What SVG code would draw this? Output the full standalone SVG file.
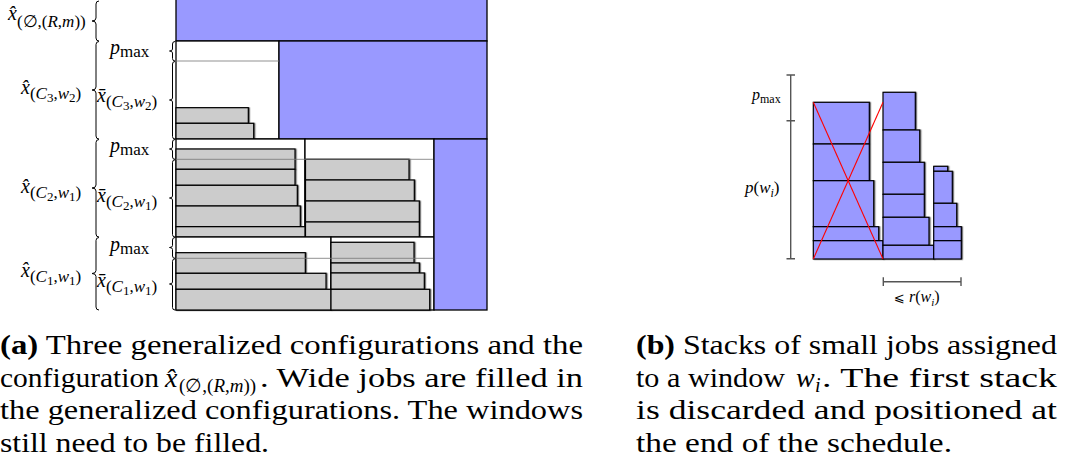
<svg xmlns="http://www.w3.org/2000/svg" width="1069" height="472" viewBox="0 0 1069 472">
<style>
.bg{fill:#fff}
.blue{fill:#9999ff;stroke:#000;stroke-width:1.3}
.box{fill:#fff;stroke:#000;stroke-width:1.3}
.job{fill:#cccccc;stroke:#000;stroke-width:1.2}
.sjob{fill:#9999ff;stroke:#000;stroke-width:1.2}
.pl{stroke:#777;stroke-width:1;opacity:0.8}
.br{fill:none;stroke:#000;stroke-width:1}
.m{font-family:'Liberation Serif','Times New Roman',Times,serif;font-size:20px;fill:#000}
.i{font-style:italic}
.s{font-size:17px}
.ss{font-size:13px}
.bar{stroke:#555;stroke-width:1.4;fill:none}
.red{stroke:#ff0000;stroke-width:1.1}
.cap{font-family:'Liberation Serif','Times New Roman',Times,serif;font-size:28px;fill:#000}
</style>
<defs>
<filter id="sh" x="-10%" y="-10%" width="120%" height="130%">
<feDropShadow dx="1.2" dy="0.3" stdDeviation="0.6" flood-color="#000" flood-opacity="0.55"/>
</filter>
</defs>
<rect class="bg" x="0" y="0" width="1069" height="472"/>

<g id="schedule-a">
<rect class="blue" x="176" y="-2" width="311" height="43"/>
<g id="config-c3-w2">
<rect class="box" x="176" y="41" width="103" height="98"/>
<rect class="blue" x="279" y="41" width="208" height="98"/>
<g filter="url(#sh)">
<rect class="job" x="176" y="107.7" width="72.3" height="15.6"/>
<rect class="job" x="176" y="123.3" width="77.7" height="15.7"/>
</g>
<line class="pl" x1="176" y1="61" x2="279" y2="61"/>
</g>
<g id="config-c2-w1">
<rect class="box" x="176" y="139" width="129" height="98"/>
<rect class="box" x="305" y="139" width="129" height="98"/>
<g filter="url(#sh)">
<rect class="job" x="176" y="149" width="119" height="20.3"/>
<rect class="job" x="176" y="169.3" width="119" height="16"/>
<rect class="job" x="176" y="185.3" width="121.3" height="20.7"/>
<rect class="job" x="176" y="206" width="124.3" height="20.7"/>
<rect class="job" x="176" y="226.7" width="129" height="10.3"/>
<rect class="job" x="305.5" y="159.3" width="103.5" height="20.7"/>
<rect class="job" x="305.5" y="180" width="108.8" height="21"/>
<rect class="job" x="305.5" y="201" width="113.8" height="21"/>
<rect class="job" x="305.5" y="222" width="113.8" height="15"/>
</g>
<line class="pl" x1="176" y1="159.3" x2="434" y2="159.3"/>
</g>
<g id="config-c1-w1">
<rect class="box" x="176" y="237" width="155" height="73"/>
<rect class="box" x="331" y="237" width="103" height="73"/>
<g filter="url(#sh)">
<rect class="job" x="176" y="252.7" width="129.3" height="20.6"/>
<rect class="job" x="176" y="273.3" width="150" height="16"/>
<rect class="job" x="176" y="289.3" width="155" height="20.7"/>
<rect class="job" x="331" y="242.3" width="83" height="20.7"/>
<rect class="job" x="331" y="263" width="88.3" height="10"/>
<rect class="job" x="331" y="273" width="93.3" height="16.3"/>
<rect class="job" x="331" y="289.3" width="98.7" height="20.7"/>
</g>
<line class="pl" x1="176" y1="258.3" x2="434" y2="258.3"/>
</g>
<g id="window-w1">
<rect class="blue" x="434" y="139" width="53" height="171"/>
</g>
</g>

<g id="braces">
<path class="br" d="M99,1 Q96,1 96,4 L96,18 Q96,21 92,21 Q96,21 96,24 L96,38 Q96,41 99,41"/>
<path class="br" d="M99,41.5 Q96,41.5 96,44.5 L96,87 Q96,90 92,90 Q96,90 96,93 L96,136 Q96,139 99,139"/>
<path class="br" d="M99,139.5 Q96,139.5 96,142.5 L96,185 Q96,188 92,188 Q96,188 96,191 L96,234 Q96,237 99,237"/>
<path class="br" d="M99,237.5 Q96,237.5 96,240.5 L96,270.5 Q96,273.5 92,273.5 Q96,273.5 96,276.5 L96,307 Q96,310 99,310"/>
<path class="br" d="M175,41.5 Q172.5,41.5 172.5,44 L172.5,49 Q172.5,51 169.5,51 Q172.5,51 172.5,53 L172.5,58.5 Q172.5,61 175,61"/>
<path class="br" d="M175,61.5 Q172.5,61.5 172.5,64 L172.5,98 Q172.5,100 169.5,100 Q172.5,100 172.5,102 L172.5,136.5 Q172.5,139 175,139"/>
<path class="br" d="M175,139.5 Q172.5,139.5 172.5,142 L172.5,147 Q172.5,149 169.5,149 Q172.5,149 172.5,151 L172.5,157 Q172.5,159.3 175,159.3"/>
<path class="br" d="M175,159.8 Q172.5,159.8 172.5,162.3 L172.5,196 Q172.5,198 169.5,198 Q172.5,198 172.5,200 L172.5,234.5 Q172.5,237 175,237"/>
<path class="br" d="M175,237.5 Q172.5,237.5 172.5,240 L172.5,245.5 Q172.5,247.5 169.5,247.5 Q172.5,247.5 172.5,249.5 L172.5,256 Q172.5,258.3 175,258.3"/>
<path class="br" d="M175,258.8 Q172.5,258.8 172.5,261.3 L172.5,282 Q172.5,284 169.5,284 Q172.5,284 172.5,286 L172.5,307.5 Q172.5,310 175,310"/>
</g>

<g id="labels-a">
<text class="m" x="8" y="20"><tspan class="i">x̂</tspan><tspan class="s" y="27">(∅,(<tspan class="i">R</tspan>,<tspan class="i">m</tspan>))</tspan></text>
<text class="m" x="110" y="54"><tspan class="i">p</tspan><tspan class="s" y="57">max</tspan></text>
<text class="m" x="21" y="94"><tspan class="i">x̂</tspan><tspan class="s" y="99">(<tspan class="i">C</tspan><tspan class="ss" y="102">3</tspan><tspan y="99">,</tspan><tspan class="i" y="99">w</tspan><tspan class="ss" y="102">2</tspan><tspan y="99">)</tspan></tspan></text>
<text class="m" x="97" y="101.5"><tspan class="i">x̄</tspan><tspan class="s" y="107">(<tspan class="i">C</tspan><tspan class="ss" y="110">3</tspan><tspan y="107">,</tspan><tspan class="i" y="107">w</tspan><tspan class="ss" y="110">2</tspan><tspan y="107">)</tspan></tspan></text>
<text class="m" x="110" y="152"><tspan class="i">p</tspan><tspan class="s" y="155">max</tspan></text>
<text class="m" x="21" y="193"><tspan class="i">x̂</tspan><tspan class="s" y="198">(<tspan class="i">C</tspan><tspan class="ss" y="201">2</tspan><tspan y="198">,</tspan><tspan class="i" y="198">w</tspan><tspan class="ss" y="201">1</tspan><tspan y="198">)</tspan></tspan></text>
<text class="m" x="97" y="201.5"><tspan class="i">x̄</tspan><tspan class="s" y="207">(<tspan class="i">C</tspan><tspan class="ss" y="210">2</tspan><tspan y="207">,</tspan><tspan class="i" y="207">w</tspan><tspan class="ss" y="210">1</tspan><tspan y="207">)</tspan></tspan></text>
<text class="m" x="110" y="250.5"><tspan class="i">p</tspan><tspan class="s" y="253.5">max</tspan></text>
<text class="m" x="21" y="276.5"><tspan class="i">x̂</tspan><tspan class="s" y="281.5">(<tspan class="i">C</tspan><tspan class="ss" y="284.5">1</tspan><tspan y="281.5">,</tspan><tspan class="i" y="281.5">w</tspan><tspan class="ss" y="284.5">1</tspan><tspan y="281.5">)</tspan></tspan></text>
<text class="m" x="97" y="286.5"><tspan class="i">x̄</tspan><tspan class="s" y="292">(<tspan class="i">C</tspan><tspan class="ss" y="295">1</tspan><tspan y="292">,</tspan><tspan class="i" y="292">w</tspan><tspan class="ss" y="295">1</tspan><tspan y="292">)</tspan></tspan></text>
</g>

<g id="window-b">
<g id="stack-1" filter="url(#sh)">
<rect class="sjob" x="813.3" y="102.3" width="56" height="41.7"/>
<rect class="sjob" x="813.3" y="144" width="56" height="36.7"/>
<rect class="sjob" x="813.3" y="180.7" width="60.4" height="46"/>
<rect class="sjob" x="813.3" y="226.7" width="65.4" height="14"/>
<rect class="sjob" x="813.3" y="240.7" width="69.7" height="18.3"/>
</g>
<g id="stack-2" filter="url(#sh)">
<rect class="sjob" x="883" y="92.3" width="32.3" height="37.7"/>
<rect class="sjob" x="883" y="130" width="36.7" height="32.3"/>
<rect class="sjob" x="883" y="162.3" width="41.3" height="32"/>
<rect class="sjob" x="883" y="194.3" width="41.3" height="23"/>
<rect class="sjob" x="883" y="217.3" width="46" height="28"/>
<rect class="sjob" x="883" y="245.3" width="50.7" height="13.7"/>
</g>
<g id="stack-3" filter="url(#sh)">
<rect class="sjob" x="933.7" y="166.3" width="14" height="5"/>
<rect class="sjob" x="933.7" y="171.3" width="18.6" height="32"/>
<rect class="sjob" x="933.7" y="203.3" width="23" height="23.4"/>
<rect class="sjob" x="933.7" y="226.7" width="27.6" height="14"/>
<rect class="sjob" x="933.7" y="240.7" width="27.6" height="18.3"/>
</g>
<g id="discard-cross">
<line class="red" x1="813.3" y1="102.3" x2="883" y2="259"/>
<line class="red" x1="813.3" y1="259" x2="883" y2="102.3"/>
</g>
<g id="scale-bars">
<path class="bar" d="M790.7,75 V258.7 M786.5,75 H795 M786.5,120.7 H795 M786.5,258.7 H795"/>
<path class="bar" d="M883.3,281.7 H961 M883.3,277.3 V286 M961,277.3 V286"/>
</g>
<text class="m" x="752" y="100" style="font-size:16px"><tspan class="i">p</tspan><tspan style="font-size:12px" y="102.5">max</tspan></text>
<text class="m" x="745" y="193" style="font-size:17px"><tspan class="i">p</tspan>(<tspan class="i">w</tspan><tspan class="i" style="font-size:12px" y="196.5">i</tspan><tspan y="193">)</tspan></text>
<text class="m" x="894" y="302" style="font-size:16px"><tspan style="font-family:'DejaVu Sans',sans-serif;font-size:13px">⩽</tspan> <tspan class="i">r</tspan>(<tspan class="i">w</tspan><tspan class="i" style="font-size:11px" y="305.5">i</tspan><tspan y="302">)</tspan></text>
</g>

<g id="caption-a" class="cap">
<text x="0" y="354" textLength="583" lengthAdjust="spacingAndGlyphs"><tspan font-weight="bold">(a)</tspan> Three generalized configurations and the</text>
<text x="0" y="386.5" textLength="159" lengthAdjust="spacingAndGlyphs">configuration</text>
<text x="165" y="386.5" font-style="italic">x̂</text>
<text x="179" y="391.5" font-size="19">(∅,(<tspan font-style="italic">R</tspan>,<tspan font-style="italic">m</tspan>))</text>
<text x="260" y="386.5" textLength="323" lengthAdjust="spacingAndGlyphs">. Wide jobs are filled in</text>
<text x="0" y="419" textLength="583" lengthAdjust="spacingAndGlyphs">the generalized configurations. The windows</text>
<text x="0" y="451.5" textLength="269" lengthAdjust="spacingAndGlyphs">still need to be filled.</text>
</g>
<g id="caption-b" class="cap">
<text x="636" y="354" textLength="421" lengthAdjust="spacingAndGlyphs"><tspan font-weight="bold">(b)</tspan> Stacks of small jobs assigned</text>
<text x="636" y="386.5" textLength="149" lengthAdjust="spacingAndGlyphs">to a window</text>
<text x="796" y="386.5" font-style="italic">w</text>
<text x="815" y="392" font-style="italic" font-size="20">i</text>
<text x="822" y="386.5" textLength="235" lengthAdjust="spacingAndGlyphs">. The first stack</text>
<text x="636" y="419" textLength="421" lengthAdjust="spacingAndGlyphs">is discarded and positioned at</text>
<text x="636" y="451.5" textLength="316" lengthAdjust="spacingAndGlyphs">the end of the schedule.</text>
</g>
</svg>
